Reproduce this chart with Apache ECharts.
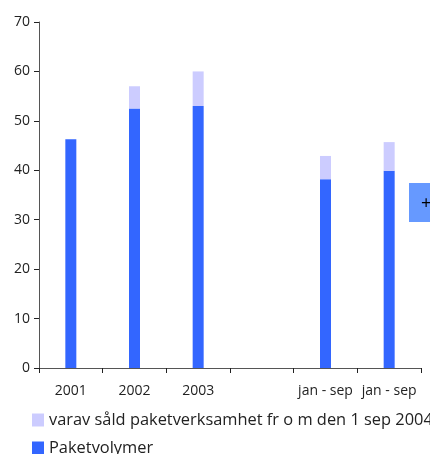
<!DOCTYPE html>
<html>
<head>
<meta charset="utf-8">
<script src="https://cdn.jsdelivr.net/npm/echarts@6/dist/echarts.min.js"></script>
<style>
  html, body { margin: 0; padding: 0; background: #fff; }
  #chart { width: 430px; height: 454px; }
</style>
</head>
<body>
<div id="chart"></div>
<script>
// Chart data
const categories = ['2001', '2002', '2003', '', 'jan - sep', 'jan - sep'];
const paketvolymer = [46.3, 52.5, 53.0, null, 38.2, 39.9];
const varavSald = [null, 4.5, 7.0, null, 4.7, 5.8];
const yTicks = { min: 0, max: 70, interval: 10 };

const SOLD_NAME = 'varav såld paketverksamhet fr o m den 1 sep 2004';
const VOL_NAME = 'Paketvolymer';

const LIGHT = '#ccccff';
const DARK = '#3366ff';
const TEXT = '#222222';
const AXIS = '#555555';
const FONT = 'Open Sans';

const chart = echarts.init(document.getElementById('chart'));

const legendBase = {
  left: 32,
  padding: 0,
  itemWidth: 12,
  itemHeight: 13,
  itemGap: 6,
  icon: 'rect',
  textStyle: { color: TEXT, fontFamily: FONT, fontSize: 16.4 },
  selectedMode: false
};

chart.setOption({
  animation: false,
  backgroundColor: '#ffffff',
  grid: { left: 39, right: 9, top: 22, bottom: 86, containLabel: false },
  legend: [
    Object.assign({}, legendBase, { top: 412, data: [SOLD_NAME] }),
    Object.assign({}, legendBase, { top: 440, data: [VOL_NAME] })
  ],
  xAxis: {
    type: 'category',
    data: categories,
    boundaryGap: true,
    axisLine: { show: true, lineStyle: { color: AXIS, width: 1 } },
    axisTick: { show: true, length: 5, inside: false, lineStyle: { color: TEXT } },
    axisLabel: { color: TEXT, fontFamily: FONT, fontSize: 14, margin: 16, interval: 0 },
    splitLine: { show: false }
  },
  yAxis: {
    type: 'value',
    min: yTicks.min,
    max: yTicks.max,
    interval: yTicks.interval,
    axisLine: { show: true, lineStyle: { color: AXIS, width: 1 } },
    axisTick: { show: true, length: 5, lineStyle: { color: TEXT } },
    axisLabel: { color: TEXT, fontFamily: FONT, fontSize: 14, margin: 9 },
    splitLine: { show: false }
  },
  series: [
    {
      name: VOL_NAME,
      type: 'bar',
      stack: 'total',
      barWidth: 11,
      data: paketvolymer,
      itemStyle: { color: DARK }
    },
    {
      name: SOLD_NAME,
      type: 'bar',
      stack: 'total',
      barWidth: 11,
      data: varavSald,
      itemStyle: { color: LIGHT }
    }
  ],
  graphic: [
    {
      type: 'group',
      left: 409,
      top: 183,
      children: [
        { type: 'rect', shape: { x: 0, y: 0, width: 25, height: 39 }, style: { fill: '#6699ff' } },
        { type: 'text', x: 12, y: 12, style: { text: '+', fill: '#000', fontSize: 18, fontFamily: FONT } }
      ]
    }
  ]
});
</script>
</body>
</html>
